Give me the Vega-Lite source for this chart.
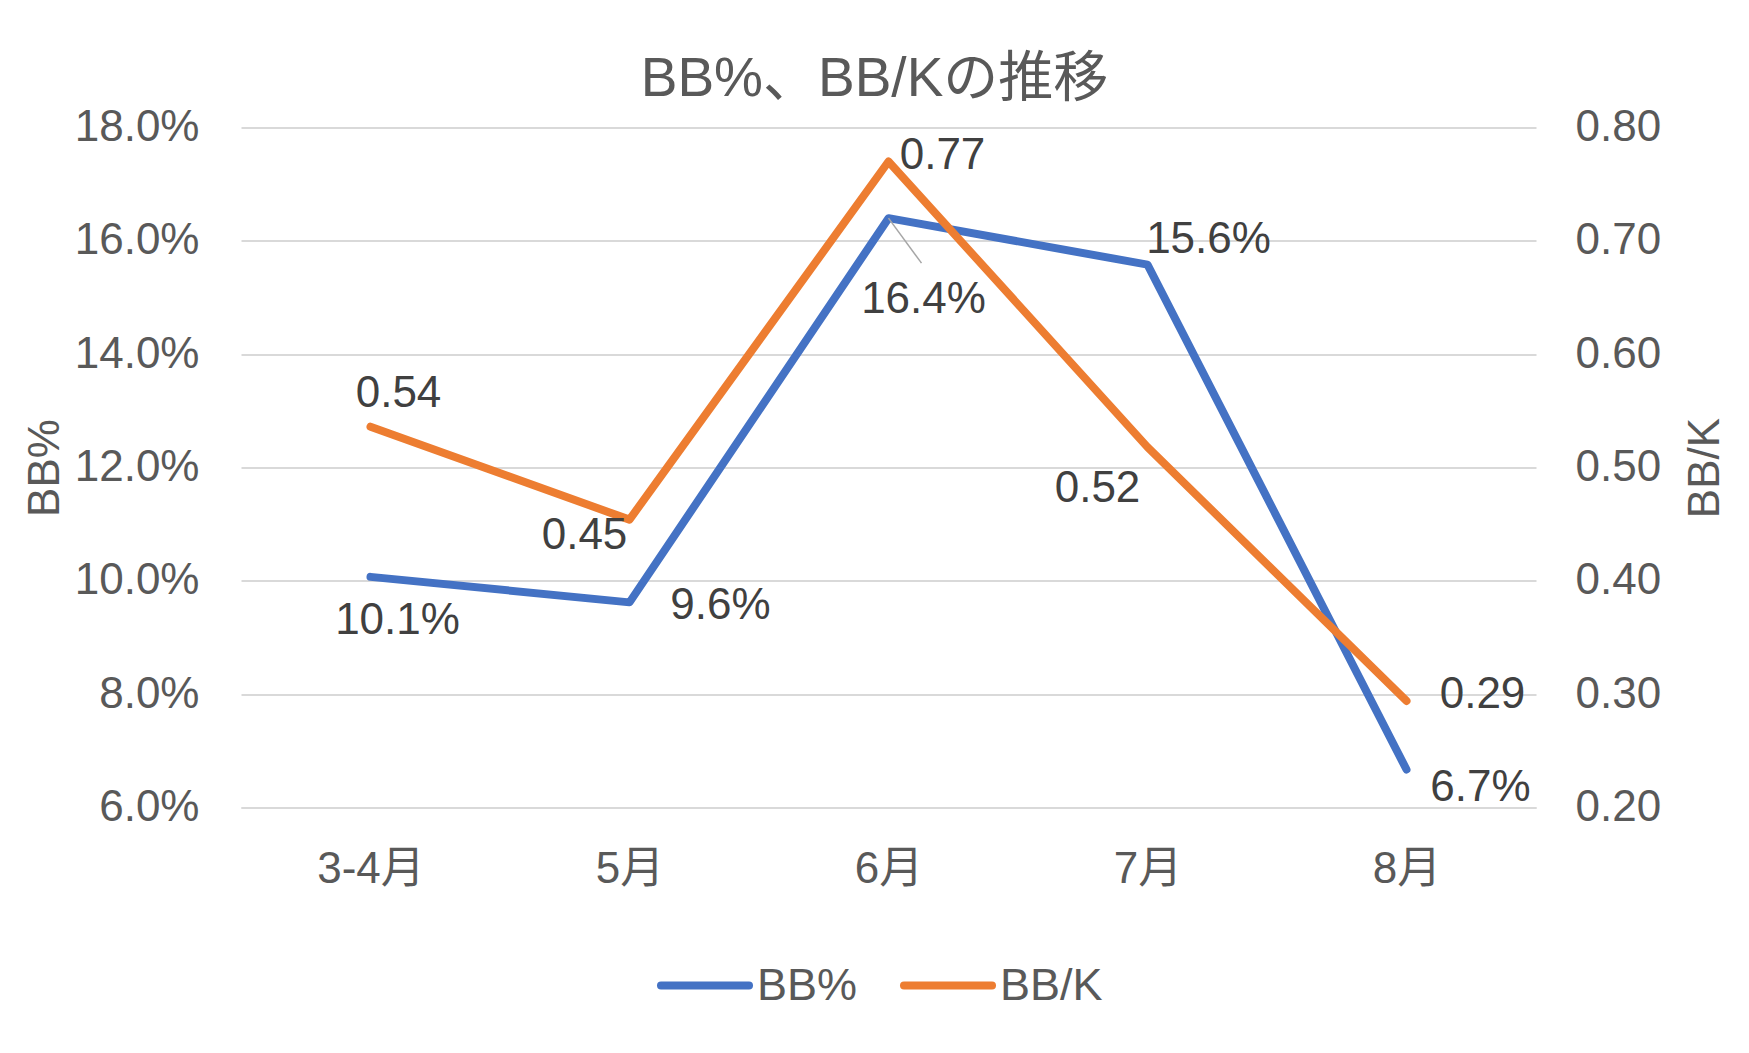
{
  "$schema": "https://vega.github.io/schema/vega-lite/v6.json",
  "width": 1295,
  "height": 680,
  "autosize": {"type": "none"},
  "padding": {"left": 241, "top": 127.5, "right": 213, "bottom": 245.5},
  "background": "white",
  "config": {
    "font": "Liberation Sans, Noto Sans CJK JP, sans-serif",
    "view": {"stroke": null},
    "axis": {
      "labelFont": "Liberation Sans, Noto Sans CJK JP, sans-serif",
      "titleFont": "Liberation Sans, Noto Sans CJK JP, sans-serif",
      "labelFontSize": 44,
      "labelColor": "#595959",
      "titleFontSize": 44,
      "titleColor": "#595959",
      "titleFontWeight": "normal",
      "ticks": false,
      "tickSize": 0,
      "domain": false,
      "gridColor": "#d9d9d9",
      "gridWidth": 2
    },
    "text": {"font": "Liberation Sans, Noto Sans CJK JP, sans-serif", "fontSize": 44, "color": "#404040", "align": "center", "baseline": "middle"}
  },
  "title": {
    "text": "BB%、BB/Kの推移",
    "fontSize": 55,
    "fontWeight": "normal",
    "color": "#595959",
    "font": "Liberation Sans, Noto Sans CJK JP, sans-serif",
    "anchor": "middle",
    "dx": -14,
    "offset": -2
  },
  "data": {
    "values": [
      {"month": "3-4月", "bbp": 0.1007, "bbk": 0.536},
      {"month": "5月", "bbp": 0.0962, "bbk": 0.454},
      {"month": "6月", "bbp": 0.164, "bbk": 0.77},
      {"month": "7月", "bbp": 0.1558, "bbk": 0.518},
      {"month": "8月", "bbp": 0.0667, "bbk": 0.294}
    ]
  },
  "encoding": {
    "x": {
      "field": "month",
      "type": "ordinal",
      "sort": null,
      "scale": {"type": "point", "padding": 0.5},
      "axis": {"title": null, "labelAngle": 0, "labelPadding": 40, "grid": false, "domain": true, "domainColor": "#d9d9d9", "domainWidth": 2}
    }
  },
  "layer": [
    {
      "encoding": {
        "y": {
          "field": "bbp",
          "type": "quantitative",
          "scale": {"domain": [0.06, 0.18], "zero": false, "nice": false},
          "axis": {"title": "BB%", "orient": "left", "values": [0.06, 0.08, 0.1, 0.12, 0.14, 0.16, 0.18], "format": ".1%", "labelPadding": 42, "titlePadding": 7, "grid": true}
        }
      },
      "layer": [
        {
          "mark": {"type": "line", "strokeWidth": 8, "strokeCap": "round", "strokeJoin": "round"},
          "encoding": {
            "color": {
              "datum": "BB%",
              "type": "nominal",
              "scale": {"domain": ["BB%", "BB/K"], "range": ["#4472C4", "#ED7D31"]},
              "legend": {
                "title": null,
                "orient": "none",
                "legendX": 416,
                "legendY": 810,
                "direction": "horizontal",
                "symbolType": "stroke",
                "symbolSize": 7744,
                "symbolStrokeWidth": 8,
                "labelFontSize": 45,
                "labelColor": "#595959",
                "labelFont": "Liberation Sans, Noto Sans CJK JP, sans-serif",
                "labelOffset": 4,
                "columnPadding": 30,
                "padding": 0,
                "labelLimit": 400,
                "encode": {"symbols": {"update": {"strokeCap": {"value": "round"}}}}
              }
            }
          }
        },
        {
          "transform": [{"filter": "datum.month === '6月'"}],
          "mark": {"type": "rule", "x2Offset": 33, "y2Offset": 45, "color": "#a6a6a6", "strokeWidth": 1.5},
          "encoding": {"x2": {"field": "month"}, "y2": {"field": "bbp"}}
        },
        {
          "transform": [{"filter": "datum.month === '3-4月'"}],
          "mark": {"type": "text", "dx": 27, "dy": 44},
          "encoding": {"text": {"field": "bbp", "type": "quantitative", "format": ".1%"}}
        },
        {
          "transform": [{"filter": "datum.month === '5月'"}],
          "mark": {"type": "text", "dx": 91, "dy": 4},
          "encoding": {"text": {"field": "bbp", "type": "quantitative", "format": ".1%"}}
        },
        {
          "transform": [{"filter": "datum.month === '6月'"}],
          "mark": {"type": "text", "dx": 35, "dy": 82},
          "encoding": {"text": {"field": "bbp", "type": "quantitative", "format": ".1%"}}
        },
        {
          "transform": [{"filter": "datum.month === '7月'"}],
          "mark": {"type": "text", "dx": 61, "dy": -25},
          "encoding": {"text": {"field": "bbp", "type": "quantitative", "format": ".1%"}}
        },
        {
          "transform": [{"filter": "datum.month === '8月'"}],
          "mark": {"type": "text", "dx": 74, "dy": 18},
          "encoding": {"text": {"field": "bbp", "type": "quantitative", "format": ".1%"}}
        }
      ]
    },
    {
      "encoding": {
        "y": {
          "field": "bbk",
          "type": "quantitative",
          "scale": {"domain": [0.2, 0.8], "zero": false, "nice": false},
          "axis": {"title": "BB/K", "orient": "right", "values": [0.2, 0.3, 0.4, 0.5, 0.6, 0.7, 0.8], "format": ".2f", "labelPadding": 39, "titlePadding": 23, "titleAngle": 270, "titleBaseline": "top", "grid": false}
        }
      },
      "layer": [
        {
          "mark": {"type": "line", "strokeWidth": 8, "strokeCap": "round", "strokeJoin": "round"},
          "encoding": {"color": {"datum": "BB/K", "type": "nominal"}}
        },
        {
          "transform": [{"filter": "datum.month === '3-4月'"}],
          "mark": {"type": "text", "dx": 28, "dy": -33},
          "encoding": {"text": {"field": "bbk", "type": "quantitative", "format": ".2f"}}
        },
        {
          "transform": [{"filter": "datum.month === '5月'"}],
          "mark": {"type": "text", "dx": -45, "dy": 16},
          "encoding": {"text": {"field": "bbk", "type": "quantitative", "format": ".2f"}}
        },
        {
          "transform": [{"filter": "datum.month === '6月'"}],
          "mark": {"type": "text", "dx": 54, "dy": -6},
          "encoding": {"text": {"field": "bbk", "type": "quantitative", "format": ".2f"}}
        },
        {
          "transform": [{"filter": "datum.month === '7月'"}],
          "mark": {"type": "text", "dx": -50, "dy": 42},
          "encoding": {"text": {"field": "bbk", "type": "quantitative", "format": ".2f"}}
        },
        {
          "transform": [{"filter": "datum.month === '8月'"}],
          "mark": {"type": "text", "dx": 76, "dy": -6},
          "encoding": {"text": {"field": "bbk", "type": "quantitative", "format": ".2f"}}
        }
      ]
    }
  ],
  "resolve": {"scale": {"y": "independent"}}
}
